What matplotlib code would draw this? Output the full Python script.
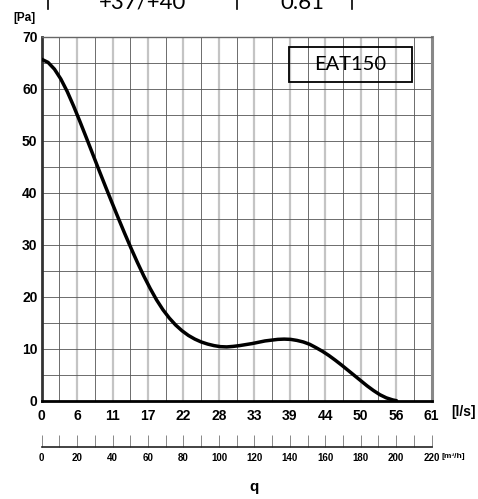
import matplotlib
matplotlib.use("Agg")
import matplotlib.pyplot as plt
from matplotlib.patches import Rectangle
from matplotlib.lines import Line2D

plt.rcParams['font.family'] = ['Liberation Sans', 'DejaVu Sans']

# fan curve: q [l/s], p [Pa]
q = [0, 1, 2, 3, 4, 5, 6, 7, 8, 9, 10, 11, 12, 13, 14, 15, 16, 17, 18, 19,
     20, 21, 22, 23, 24, 25, 26, 27, 28, 29, 30, 31, 32, 33, 34, 35, 36, 37,
     38, 39, 40, 41, 42, 43, 44, 45, 46, 47, 48, 49, 50, 51, 52, 53, 54, 55, 55.6]
p = [65.7, 65.1, 63.8, 61.9, 59.5, 56.7, 53.7, 50.6, 47.45, 44.3, 41.2, 38.15,
     35.15, 32.2, 29.35, 26.6, 24.0, 21.6, 19.4, 17.5, 15.9, 14.55, 13.45, 12.55,
     11.85, 11.3, 10.9, 10.6, 10.4, 10.35, 10.45, 10.6, 10.8, 11.0, 11.25, 11.5,
     11.65, 11.8, 11.85, 11.8, 11.6, 11.3, 10.85, 10.2, 9.5, 8.7, 7.8, 6.85,
     5.85, 4.85, 3.85, 2.85, 1.95, 1.15, 0.55, 0.15, 0.0]

x_labels = ['0', '6', '11', '17', '22', '28', '33', '39', '44', '50', '56', '61']
m3h_major = list(range(0, 221, 20))
m3h_minor = list(range(10, 220, 20))
y_ticks = list(range(0, 71, 10))

qmax = 220 / 3.6

fig = plt.figure(figsize=(4.78, 4.99), dpi=100)
ax = fig.add_axes([0.0872, 0.197, 0.8159, 0.729])

# grid
for v in m3h_major[1:-1]:
    ax.axvline(v / 3.6, color='#c4c4c4', lw=1.6, zorder=1)
for v in m3h_minor:
    ax.axvline(v / 3.6, color='#555555', lw=0.6, zorder=1)
for h in range(5, 70, 5):
    ax.axhline(h, color='#555555', lw=0.6, zorder=1)

ax.plot(q, p, color='black', lw=2.5, zorder=3, solid_capstyle='round')

ax.set_xlim(0, qmax)
ax.set_ylim(0, 70)
ax.set_xticks([v / 3.6 for v in m3h_major])
ax.set_xticklabels(x_labels)
ax.set_yticks(y_ticks)
ax.tick_params(length=0, labelsize=10)
ax.tick_params(axis='x', pad=6)
ax.tick_params(axis='y', pad=3)
for lab in ax.get_xticklabels() + ax.get_yticklabels():
    lab.set_fontweight('bold')

ax.spines['left'].set_color('#333333')
ax.spines['left'].set_linewidth(2)
ax.spines['bottom'].set_color('black')
ax.spines['bottom'].set_linewidth(2)
ax.spines['right'].set_color('#888888')
ax.spines['right'].set_linewidth(2.2)
ax.spines['top'].set_color('#666666')
ax.spines['top'].set_linewidth(1)

# second scale in m3/h
ax2 = fig.add_axes([0.0872, 0.1036, 0.8159, 0.03])
ax2.set_xlim(0, 220)
ax2.set_ylim(0, 1)
ax2.set_yticks([])
for s in ['left', 'right', 'top']:
    ax2.spines[s].set_visible(False)
ax2.spines['bottom'].set_linewidth(1.2)
ax2.spines['bottom'].set_color('#222222')
ax2.set_xticks(m3h_major)
ax2.set_xticks(m3h_minor, minor=True)
ax2.tick_params(axis='x', which='both', direction='in', length=8.5,
                width=0.7, color='#888888', labelsize=7, pad=4)
ax2.patch.set_alpha(0)
for lab in ax2.get_xticklabels():
    lab.set_fontweight('bold')

fig.text(442 / 478, 0.0842, '[m³/h]', fontsize=6, fontweight='bold',
         ha='left', va='center')
fig.text(451 / 478, 0.1744, '[l/s]', fontsize=10, fontweight='bold',
         ha='left', va='center')
fig.text(13 / 478, 0.9639, '[Pa]', fontsize=8.5, fontweight='bold',
         ha='left', va='center')
fig.text(254 / 478, 0.024, 'q', fontsize=11, fontweight='bold',
         ha='center', va='center')

# label box
fig.patches.append(Rectangle((0.6053, 0.8363), 0.2561, 0.0701,
                             transform=fig.transFigure, fill=False,
                             edgecolor='black', lw=1.3))
fig.text(0.7333, 0.8713, 'EAT150', fontsize=14.5, family='Lato',
         ha='center', va='center')

# remains of a table cut off at the top of the picture
fig.text(143 / 478, 0.982, '+37/+40', fontsize=16, family='Lato',
         ha='center', va='baseline')
fig.text(302 / 478, 0.982, '0.61', fontsize=16, family='Lato',
         ha='center', va='baseline')
for bx in [48, 237, 352]:
    fig.lines.append(Line2D([bx / 478, bx / 478], [0.982, 1.0],
                            transform=fig.transFigure, color='black', lw=1.2))

fig.savefig('out.png', dpi=100)
